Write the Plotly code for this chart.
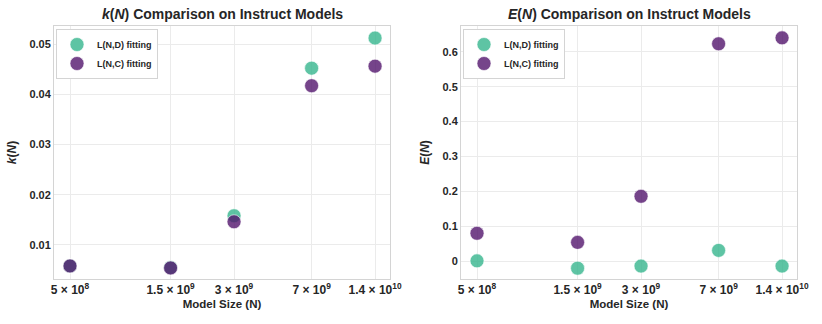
import plotly.graph_objects as go

model_sizes = [5e8, 1.5e9, 3e9, 7e9, 1.4e10]
tick_labels = ["5 × 10<sup>8</sup>", "1.5 × 10<sup>9</sup>", "3 × 10<sup>9</sup>",
               "7 × 10<sup>9</sup>", "1.4 × 10<sup>10</sup>"]
k_nd = [0.0058, 0.0055, 0.0158, 0.0452, 0.0512]
k_nc = [0.0058, 0.0054, 0.0146, 0.0417, 0.0456]
e_nd = [0.001, -0.020, -0.014, 0.031, -0.014]
e_nc = [0.080, 0.054, 0.186, 0.623, 0.640]
k_ticks = [0.01, 0.02, 0.03, 0.04, 0.05]
e_ticks = [0, 0.1, 0.2, 0.3, 0.4, 0.5, 0.6]
series_names = ["L(N,D) fitting", "L(N,C) fitting"]

teal = "rgba(54,181,141,0.8)"
purple = "rgba(82,21,109,0.8)"
font = "Liberation Sans, Arial, sans-serif"

fig = go.Figure()

def add(x, y, name, color, xa, ya):
    fig.add_trace(go.Scatter(
        x=x, y=y, mode="markers", name="<b>" + name + "</b>", xaxis=xa, yaxis=ya,
        legend="legend" if xa == "x" else "legend2",
        marker=dict(size=14, color=color, line=dict(color="white", width=0.6)),
    ))

add(model_sizes, k_nd, series_names[0], teal, "x", "y")
add(model_sizes, k_nc, series_names[1], purple, "x", "y")
add(model_sizes, e_nd, series_names[0], teal, "x2", "y2")
add(model_sizes, e_nc, series_names[1], purple, "x2", "y2")

def fmt(v):
    return "<b>" + (("%g" % v)) + "</b>"

xcommon = dict(
    type="log", range=[8.623, 10.217], tickvals=model_sizes,
    ticktext=["<b>" + t + "</b>" for t in tick_labels], automargin=False,
    showgrid=True, gridcolor="#ebebeb", gridwidth=1, zeroline=False,
    showline=True, linecolor="#d4d4d4", linewidth=1, mirror=True, ticks="",
    tickfont=dict(family=font, size=12, color="#262626"),
    title=dict(text="<b>Model Size (N)</b>", font=dict(family=font, size=11.5, color="#262626"), standoff=3),
)
ycommon = dict(
    showgrid=True, gridcolor="#ebebeb", gridwidth=1, zeroline=False, automargin=False,
    showline=True, linecolor="#d4d4d4", linewidth=1, mirror=True, ticks="",
    tickfont=dict(family=font, size=11, color="#262626"),
)

W, H = 822, 324
legcommon = dict(xanchor="left", yanchor="top", bgcolor="white", bordercolor="#d4d4d4",
                 borderwidth=1, font=dict(family=font, size=9, color="#262626"),
                 itemsizing="trace", tracegroupgap=0, itemwidth=30)
fig.update_layout(
    width=W, height=H, margin=dict(l=0, r=0, t=0, b=0),
    paper_bgcolor="white", plot_bgcolor="white",
    font=dict(family=font, color="#262626"),
    xaxis=dict(**xcommon, domain=[54 / W, 390 / W], anchor="y"),
    xaxis2=dict(**xcommon, domain=[461 / W, 797 / W], anchor="y2"),
    yaxis=dict(**ycommon, domain=[1 - 279 / H, 1 - 26 / H], anchor="x",
               range=[0.0032, 0.0536], tickvals=k_ticks, ticktext=[fmt(v) for v in k_ticks],
               title=dict(text="<b><i>k</i>(<i>N</i>)</b>", font=dict(family=font, size=12, color="#262626"), standoff=10)),
    yaxis2=dict(**ycommon, domain=[1 - 279 / H, 1 - 26 / H], anchor="x2",
                range=[-0.051, 0.674], tickvals=e_ticks, ticktext=[fmt(v) for v in e_ticks],
                title=dict(text="<b><i>E</i>(<i>N</i>)</b>", font=dict(family=font, size=12, color="#262626"), standoff=10)),
    legend=dict(x=56 / W, y=1 - 29 / H, **legcommon),
    legend2=dict(x=463 / W, y=1 - 29 / H, **legcommon),
    annotations=[
        dict(text="<b><i>k</i>(<i>N</i>) Comparison on Instruct Models</b>", x=(54 + 390) / 2 / W, y=1 - 14 / H,
             xref="paper", yref="paper", showarrow=False, xanchor="center", yanchor="middle",
             font=dict(family=font, size=14, color="#262626")),
        dict(text="<b><i>E</i>(<i>N</i>) Comparison on Instruct Models</b>", x=(461 + 797) / 2 / W, y=1 - 14 / H,
             xref="paper", yref="paper", showarrow=False, xanchor="center", yanchor="middle",
             font=dict(family=font, size=14, color="#262626")),
    ],
)

fig.write_html("out.html", config={"displayModeBar": False},
               post_script="document.body.style.margin='0';")
